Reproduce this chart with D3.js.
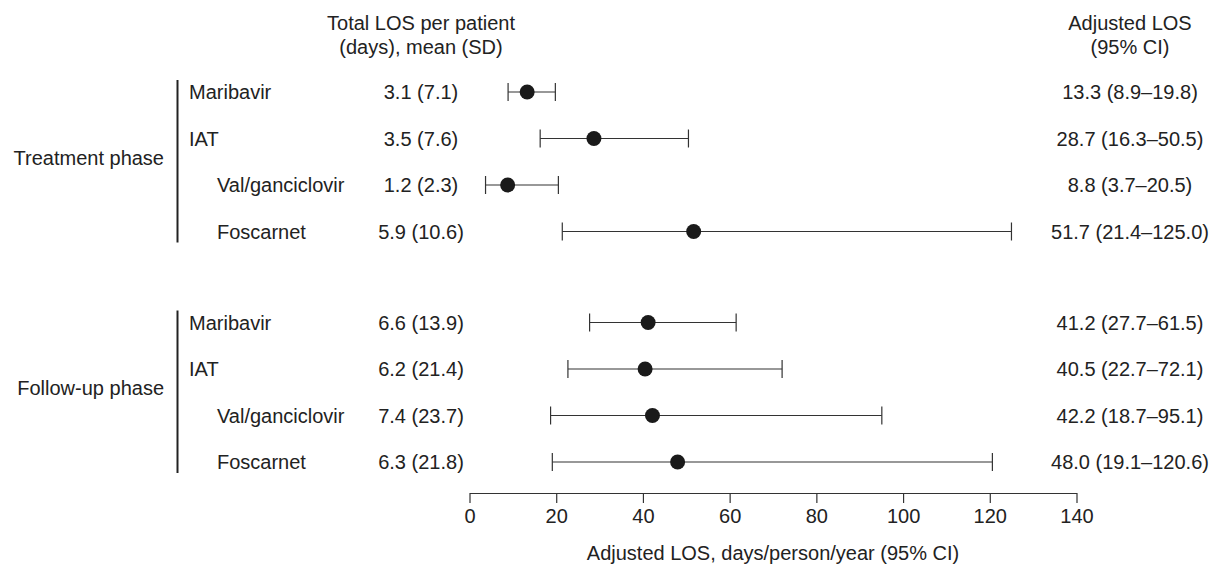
<!DOCTYPE html>
<html lang="en">
  <head>
    <meta charset="utf-8" />
    <script src="https://cdn.jsdelivr.net/npm/d3@7/dist/d3.min.js"></script>
    <title>Adjusted LOS forest plot</title>
    <style>
      body { margin: 0; background: #fff; }
      text { font-family: "Liberation Sans", Arial, sans-serif; font-size: 20px; fill: #222; }
    </style>
  </head>
  <body>
    <div id="container"></div>
    <script>
      const width = 1210;
      const height = 572;

      // data
      const phases = ["Treatment phase", "Follow-up phase"];
      const treatments = ["Maribavir", "IAT", "Val/ganciclovir", "Foscarnet"];
      const indented = [false, false, true, true];
      const losText = [
        ["3.1 (7.1)", "3.5 (7.6)", "1.2 (2.3)", "5.9 (10.6)"],
        ["6.6 (13.9)", "6.2 (21.4)", "7.4 (23.7)", "6.3 (21.8)"]
      ];
      const estimate = [
        [13.3, 28.7, 8.8, 51.7],
        [41.2, 40.5, 42.2, 48.0]
      ];
      const lower = [
        [8.9, 16.3, 3.7, 21.4],
        [27.7, 22.7, 18.7, 19.1]
      ];
      const upper = [
        [19.8, 50.5, 20.5, 125.0],
        [61.5, 72.1, 95.1, 120.6]
      ];
      const ticks = [0, 20, 40, 60, 80, 100, 120, 140];

      const rows = [];
      phases.forEach((p, i) => {
        treatments.forEach((t, j) => {
          rows.push({
            phase: i, idx: j, name: t, indent: indented[j],
            los: losText[i][j], est: estimate[i][j], lo: lower[i][j], hi: upper[i][j],
            ci: `${estimate[i][j].toFixed(1)} (${lower[i][j].toFixed(1)}\u2013${upper[i][j].toFixed(1)})`
          });
        });
      });

      const svg = d3.select("#container").append("svg").attr("width", width).attr("height", height);

      const x = d3.scaleLinear().domain([0, 140]).range([469.5, 1076.5]);
      const y = (r) => 92 + r.idx * 46.5 + r.phase * 230.5;

      // column headers
      const hdr = svg.append("g").attr("text-anchor", "middle");
      hdr.append("text").attr("x", 421).attr("y", 30).text("Total LOS per patient");
      hdr.append("text").attr("x", 421).attr("y", 54).text("(days), mean (SD)");
      hdr.append("text").attr("x", 1130).attr("y", 30).text("Adjusted LOS");
      hdr.append("text").attr("x", 1130).attr("y", 54).text("(95% CI)");

      // phase labels with brackets
      phases.forEach((p, i) => {
        const pr = rows.filter((r) => r.phase === i);
        const top = y(pr[0]) - 12;
        const bot = y(pr[pr.length - 1]) + 11;
        svg.append("line").attr("x1", 177.5).attr("x2", 177.5).attr("y1", top).attr("y2", bot)
          .attr("stroke", "#222").attr("stroke-width", 2);
        svg.append("text").attr("x", 164).attr("y", (top + bot) / 2 + 3.5).attr("text-anchor", "end").text(p);
      });

      const g = svg.selectAll("g.row").data(rows).enter().append("g").attr("class", "row")
        .attr("transform", (d) => `translate(0,${y(d)})`);

      g.append("text").attr("x", (d) => (d.indent ? 217 : 189)).attr("y", 7).text((d) => d.name);
      g.append("text").attr("x", 421).attr("y", 7).attr("text-anchor", "middle").text((d) => d.los);
      g.append("text").attr("x", 1130).attr("y", 7).attr("text-anchor", "middle").text((d) => d.ci);

      g.append("line").attr("x1", (d) => x(d.lo)).attr("x2", (d) => x(d.hi))
        .attr("stroke", "#333").attr("stroke-width", 1.2);
      g.append("line").attr("x1", (d) => x(d.lo)).attr("x2", (d) => x(d.lo)).attr("y1", -9).attr("y2", 9)
        .attr("stroke", "#333").attr("stroke-width", 1.2);
      g.append("line").attr("x1", (d) => x(d.hi)).attr("x2", (d) => x(d.hi)).attr("y1", -9).attr("y2", 9)
        .attr("stroke", "#333").attr("stroke-width", 1.2);
      g.append("circle").attr("cx", (d) => x(d.est)).attr("r", 7.5).attr("fill", "#1a1a1a");

      // x axis
      const axis = svg.append("g").attr("transform", "translate(0,493)")
        .call(d3.axisBottom(x).tickValues(ticks).tickSize(10).tickPadding(6).tickSizeOuter(0));
      axis.select(".domain").attr("stroke", "#333").attr("stroke-width", 1.2);
      axis.selectAll(".tick line").attr("stroke", "#333").attr("stroke-width", 1.2);
      axis.selectAll(".tick text").style("font-size", "20px").attr("fill", "#222")
        .style("font-family", "'Liberation Sans', Arial, sans-serif");

      svg.append("text").attr("x", 773).attr("y", 560).attr("text-anchor", "middle")
        .text("Adjusted LOS, days/person/year (95% CI)");
    </script>
  </body>
</html>
